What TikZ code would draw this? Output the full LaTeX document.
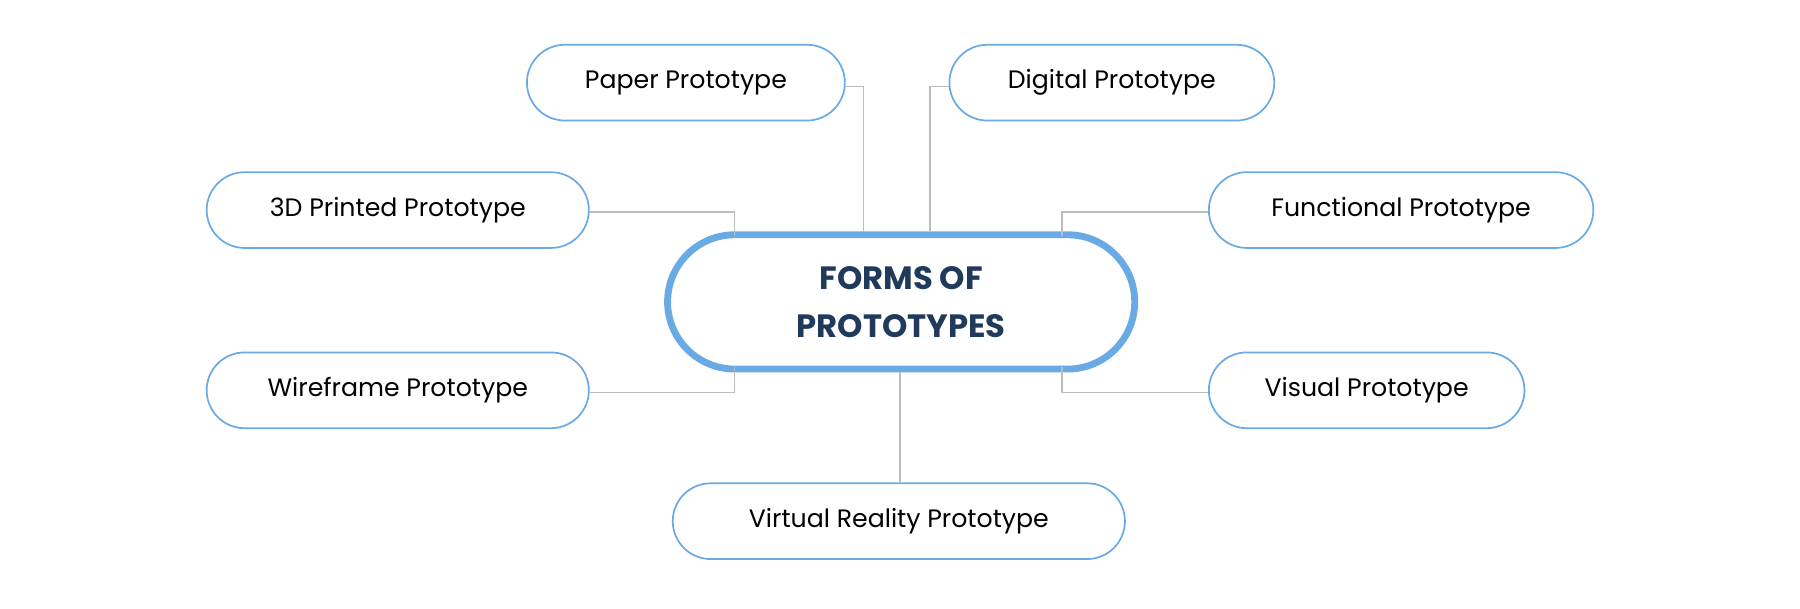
\documentclass[tikz,border=0pt]{standalone}
\usepackage{fontspec}
\setmainfont{Poppins}
\definecolor{bord}{HTML}{6AAAE4}
\definecolor{navy}{HTML}{1F3A5A}
\definecolor{conn}{HTML}{BDBDBD}
\begin{document}
\begin{tikzpicture}[x=0.02cm,y=-0.02cm,
  leaf/.style={draw=bord,line width=0.85pt,rounded corners=0.66cm,minimum height=1.32cm,inner sep=0pt,font=\fontsize{12.5}{15}\selectfont,text=black},
  hub/.style={draw=bord,line width=3.4pt,rounded corners=1.17cm,minimum height=2.34cm,minimum width=8.14cm,align=center,inner sep=0pt,font=\fontsize{16}{24}\selectfont\bfseries,text=navy},
  link/.style={draw=conn,line width=0.7pt}]
\useasboundingbox (0,0) rectangle (1568,530);
\node[hub] (c) at (785,263) {FORMS OF\\PROTOTYPES};
\node[leaf,minimum width=5.54cm] (paper) at (597.5,72) {Paper Prototype};
\node[leaf,minimum width=5.66cm] (digital) at (968.5,72) {Digital Prototype};
\node[leaf,minimum width=6.66cm] (print) at (346.5,183) {3D Printed Prototype};
\node[leaf,minimum width=6.70cm] (func) at (1220.5,183) {Functional Prototype};
\node[leaf,minimum width=6.66cm] (wire) at (346.5,340) {Wireframe Prototype};
\node[leaf,minimum width=5.50cm] (vis) at (1190.5,340) {Visual Prototype};
\node[leaf,minimum width=7.88cm] (vr) at (783,454) {Virtual Reality Prototype};
\coordinate (cp) at (752,202);
\coordinate (cd) at (810,202);
\coordinate (c3) at (640,206);
\coordinate (cf) at (925,206);
\coordinate (cw) at (640,320);
\coordinate (cv) at (925,320);
\coordinate (cb) at (784,324);
\begin{scope}[on background layer/.style={}]
\draw[link] ([yshift=-2]paper.east) -| (cp);
\draw[link] ([yshift=-2]digital.west) -| (cd);
\draw[link] ([yshift=-1]print.east) -| (c3);
\draw[link] ([yshift=-1]func.west) -| (cf);
\draw[link] ([yshift=-1]wire.east) -| (cw);
\draw[link] ([yshift=-1]vis.west) -| (cv);
\draw[link] (cb) -- (vr.north -| cb);
\end{scope}
\end{tikzpicture}
\end{document}
